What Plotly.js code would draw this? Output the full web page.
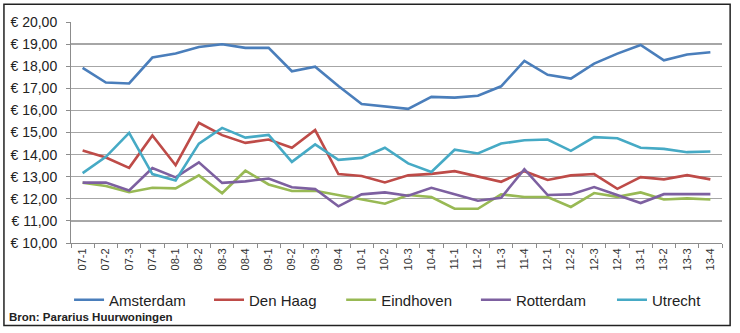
<!DOCTYPE html>
<html>
<head>
<meta charset="utf-8">
<script src="https://cdn.plot.ly/plotly-3.0.1.min.js"></script>
<style>
html,body{margin:0;padding:0;background:#fff;}
#chart{width:740px;height:333px;}
</style>
</head>
<body>
<div id="chart"></div>
<script>
const quarters = ["07-1","07-2","07-3","07-4","08-1","08-2","08-3","08-4","09-1","09-2","09-3","09-4","10-1","10-2","10-3","10-4","11-1","11-2","11-3","11-4","12-1","12-2","12-3","12-4","13-1","13-2","13-3","13-4"];
const amsterdam = [17.92,17.26,17.22,18.39,18.57,18.87,18.99,18.83,18.83,17.77,17.98,17.10,16.29,16.19,16.07,16.61,16.58,16.66,17.09,18.24,17.61,17.44,18.12,18.57,18.96,18.27,18.53,18.63];
const denHaag = [14.19,13.87,13.40,14.87,13.52,15.44,14.88,14.53,14.68,14.31,15.11,13.12,13.03,12.74,13.06,13.13,13.25,13.00,12.77,13.25,12.85,13.06,13.12,12.45,12.98,12.88,13.07,12.88];
const eindhoven = [12.73,12.58,12.30,12.50,12.47,13.06,12.25,13.27,12.65,12.35,12.36,12.17,11.97,11.78,12.17,12.08,11.55,11.55,12.20,12.08,12.08,11.63,12.26,12.09,12.29,11.97,12.02,11.97];
const rotterdam = [12.73,12.74,12.38,13.39,12.97,13.65,12.72,12.79,12.92,12.52,12.44,11.66,12.20,12.29,12.14,12.50,12.21,11.91,12.05,13.34,12.17,12.20,12.53,12.17,11.81,12.21,12.21,12.21];
const utrecht = [13.16,13.90,14.98,13.12,12.83,14.50,15.21,14.77,14.89,13.67,14.46,13.76,13.85,14.31,13.60,13.21,14.22,14.05,14.50,14.65,14.68,14.17,14.79,14.74,14.31,14.26,14.11,14.14];
const seriesNames = ["Amsterdam","Den Haag","Eindhoven","Rotterdam","Utrecht"];
const seriesColors = ["#4a7ebb","#be4b48","#98b954","#7d60a0","#46aac5"];
const seriesValues = [amsterdam, denHaag, eindhoven, rotterdam, utrecht];
const sourceText = "Bron: Pararius Huurwoningen";

const legendIds = ["legend","legend2","legend3","legend4","legend5"];
const legendX = [-0.003, 0.212, 0.415, 0.622, 0.831];

const traces = seriesValues.map((vals, i) => ({
  type: "scatter",
  mode: "lines",
  x: quarters,
  y: vals,
  name: seriesNames[i],
  legend: legendIds[i],
  line: {color: seriesColors[i], width: 2.6},
  hoverinfo: "skip"
}));

const layout = {
  width: 740,
  height: 333,
  margin: {l: 71, r: 18, t: 22, b: 90, autoexpand: false},
  paper_bgcolor: "#ffffff",
  plot_bgcolor: "#ffffff",
  separators: ",.",
  font: {family: "Liberation Sans, Arial, sans-serif", color: "#222"},
  showlegend: true,
  xaxis: {
    type: "category",
    tickangle: -90,
    tickfont: {size: 11, color: "#333"},
    ticks: "outside",
    tickson: "boundaries",
    ticklen: 4,
    tickcolor: "#8c8c8c",
    showline: true,
    linecolor: "#8c8c8c",
    linewidth: 1,
    showgrid: false,
    zeroline: false,
    range: [-0.5, 27.5]
  },
  yaxis: {
    range: [10, 20],
    dtick: 1,
    tick0: 10,
    tickprefix: "€ ",
    tickformat: ".2f",
    tickfont: {size: 14, color: "#222"},
    ticks: "outside",
    ticklen: 4,
    tickcolor: "#8c8c8c",
    ticklabelstandoff: 6,
    showline: true,
    linecolor: "#8c8c8c",
    linewidth: 1,
    showgrid: true,
    gridcolor: "#a6a6a6",
    gridwidth: 1.3,
    zeroline: false
  },
  annotations: [{
    text: "<b>" + sourceText + "</b>",
    xref: "paper", yref: "paper",
    x: -0.099, y: -0.334,
    xanchor: "left", yanchor: "middle",
    showarrow: false,
    font: {size: 11.5, color: "#222", family: "Liberation Sans Narrow, Arial Narrow, Liberation Sans, sans-serif"}
  }],
  shapes: [{
    type: "rect",
    xref: "paper", yref: "paper",
    x0: -0.1030, x1: 1.0125,
    y0: -0.3728, y1: 1.080,
    line: {color: "#222", width: 1.5},
    fillcolor: "rgba(0,0,0,0)",
    layer: "below"
  }]
};

legendIds.forEach((id, i) => {
  layout[id] = {
    orientation: "h",
    x: legendX[i],
    xanchor: "left",
    y: -0.258,
    yanchor: "middle",
    font: {size: 15, color: "#222"},
    itemwidth: 30,
    bgcolor: "rgba(0,0,0,0)"
  };
});

Plotly.newPlot("chart", traces, layout, {staticPlot: true, displayModeBar: false});
</script>
</body>
</html>
